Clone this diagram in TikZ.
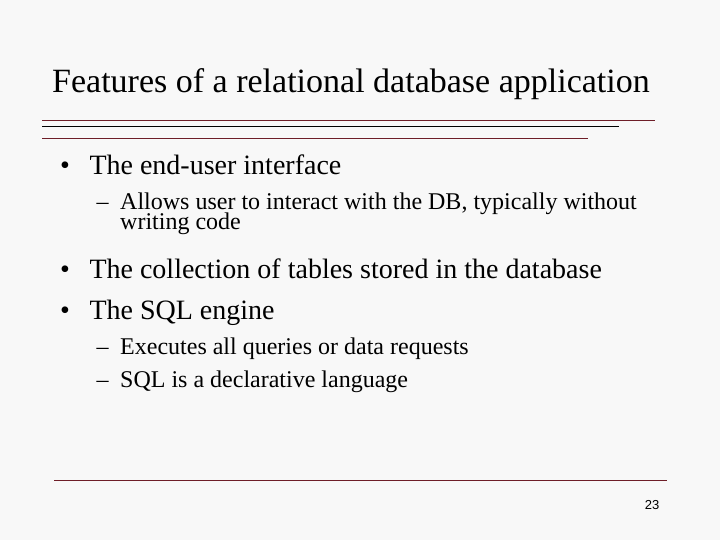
\documentclass[tikz,border=0pt]{standalone}
\usepackage{fontspec}
\setmainfont{Liberation Serif}
\newfontfamily\pagefont{Liberation Sans}
\usepackage{tikz}
\usetikzlibrary{positioning}
\definecolor{rulered}{RGB}{110,30,40}
\definecolor{slidebg}{RGB}{248,248,248}
\newcommand{\tightlines}{\setlength{\lineskiplimit}{-100pt}}

\begin{document}
\begin{tikzpicture}[
      x=1pt, y=-1pt,
      headline/.style={
         anchor=base west,
         inner sep=0pt,
         font=\fontsize{34}{40}\selectfont
      },
      levelone/.style={
         anchor=base west,
         inner sep=0pt,
         font=\fontsize{28}{34}\selectfont
      },
      leveltwo/.style={
         anchor=base west,
         inner sep=0pt,
         font=\fontsize{24}{20}\selectfont\tightlines,
         align=left
      },
      bulletmark/.style={anchor=base, inner sep=0pt, font=\fontsize{28}{34}\selectfont},
      dashmark/.style={anchor=base, inner sep=0pt, font=\fontsize{24}{24}\selectfont},
      redrule/.style={draw=rulered, line width=1pt},
      blackrule/.style={draw=black, line width=1pt}
    ]
    \fill[slidebg] (0,0) rectangle (720,540);
    \useasboundingbox (0,0) rectangle (720,540);
    % title and rules
    \node (title) [headline] at (52,92.3) {Features of a relational database application};
    \draw[redrule] (42,120.5) -- (655,120.5);
    \draw[blackrule] (42,126.5) -- (619,126.5);
    \draw[redrule] (42,138.5) -- (588,138.5);
    % first bullet
    \node (m1) [bulletmark] at (65,174.3) {•};
    \node (b1) [levelone] at (89.3,174.3) {The end-user interface};
    \node (d1) [dashmark] at (102.5,209.3) {–};
    % base anchor sits on the last line
    \node (s1) [leveltwo] at (120,229.3) {Allows user to interact with the DB, typically without\\writing code};
    % second and third bullet
    \node (m2) [bulletmark] at (65,278.3) {•};
    \node (b2) [levelone] at (89.3,278.3) {The collection of tables stored in the database};
    \node (m3) [bulletmark] at (65,319) {•};
    \node (b3) [levelone] at (89.3,319) {The SQL engine};
    \node (d3a) [dashmark] at (102.5,354) {–};
    \node (s3a) [leveltwo] at (120,354) {Executes all queries or data requests};
    \node (d3b) [dashmark] at (102.5,387.7) {–};
    \node (s3b) [leveltwo] at (120,387.7) {SQL is a declarative language};
    % footer
    \draw[redrule] (54,480.5) -- (667,480.5);
    \node (page) [anchor=base, inner sep=0pt, font=\pagefont\fontsize{13}{13}\selectfont] at (652,509) {23};
\end{tikzpicture}
\end{document}
